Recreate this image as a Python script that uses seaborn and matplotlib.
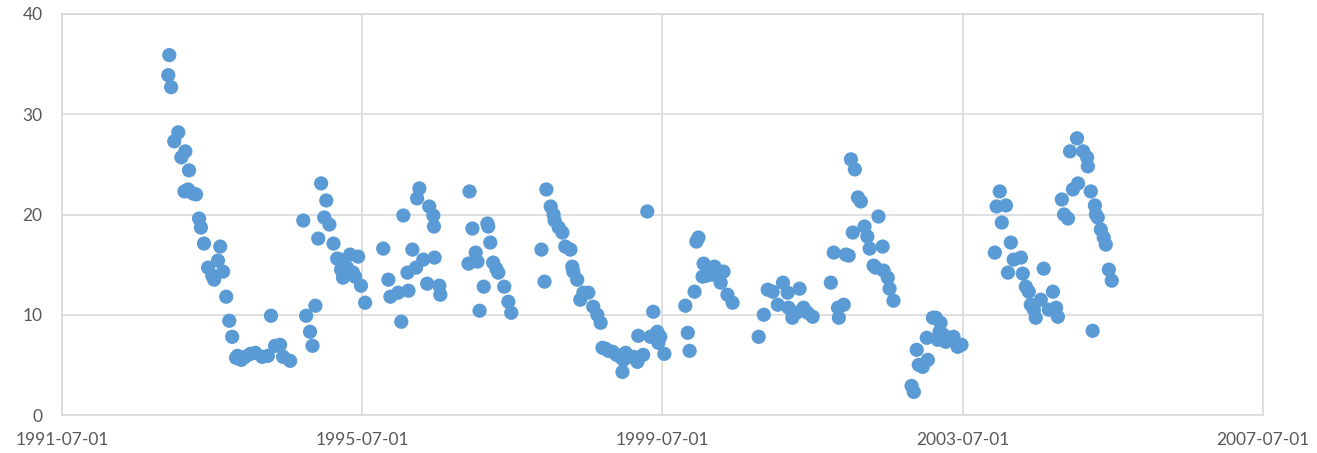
import pandas as pd
import seaborn as sns
import matplotlib.pyplot as plt
import matplotlib.dates as mdates

# ==============================
# DATA
# ==============================
dates = [
    # 1992-1994
    "1992-11-29", "1992-12-04", "1992-12-13", "1992-12-28", "1993-01-17", "1993-02-01",
    "1993-02-16", "1993-02-20", "1993-03-05", "1993-03-10", "1993-03-29", "1993-04-13",
    "1993-04-28", "1993-05-07", "1993-05-22", "1993-06-11", "1993-07-01", "1993-07-10",
    "1993-07-29", "1993-08-09", "1993-08-23", "1993-09-07", "1993-09-22", "1993-10-06",
    "1993-10-25", "1993-11-01", "1993-11-19", "1993-12-08", "1994-01-03", "1994-01-27",
    "1994-03-01", "1994-03-29", "1994-04-13", "1994-05-03", "1994-05-27", "1994-06-11",
    "1994-07-15",
    # 1994-1995
    "1994-09-17", "1994-10-01", "1994-10-20", "1994-11-01", "1994-11-15", "1994-11-29",
    "1994-12-13", "1994-12-28", "1995-01-07", "1995-01-22", "1995-02-11", "1995-03-01",
    "1995-03-15", "1995-03-20", "1995-03-29", "1995-04-18", "1995-05-03", "1995-05-17",
    "1995-05-27", "1995-06-11", "1995-06-25", "1995-07-15",
    # 1995-1996
    "1995-10-11", "1995-11-05", "1995-11-15", "1995-12-23", "1996-01-07", "1996-01-17",
    "1996-02-06", "1996-02-11", "1996-03-01", "1996-03-19", "1996-04-04", "1996-03-24",
    "1996-04-23", "1996-05-12", "1996-05-22", "1996-06-11", "1996-06-14", "1996-06-17",
    "1996-07-10", "1996-07-15",
    # 1996-1997
    "1996-11-29", "1996-12-04", "1996-12-18", "1997-01-03", "1997-01-12", "1997-01-22",
    "1997-02-11", "1997-03-01", "1997-03-05", "1997-03-15", "1997-03-29", "1997-04-13",
    "1997-04-23", "1997-05-22", "1997-06-11", "1997-06-25",
    # 1997-1998
    "1997-11-19", "1997-12-04", "1997-12-13", "1998-01-03", "1998-01-17", "1998-01-22",
    "1998-02-11", "1998-03-01", "1998-03-15", "1998-04-09", "1998-04-18", "1998-04-23",
    "1998-05-12", "1998-05-27", "1998-06-11", "1998-07-05", "1998-07-29", "1998-08-18",
    "1998-09-03", "1998-09-12",
    # 1998-2000
    "1998-09-27", "1998-10-11", "1998-11-01", "1998-11-19", "1998-12-08", "1998-12-18",
    "1998-12-23", "1999-01-03", "1999-01-17", "1999-02-11", "1999-03-01", "1999-03-05",
    "1999-03-29", "1999-04-18", "1999-05-03", "1999-05-17", "1999-05-27", "1999-06-06",
    "1999-06-11", "1999-06-20", "1999-07-10", "1999-10-20", "1999-11-01", "1999-11-10",
    "1999-12-04", "1999-12-13", "1999-12-23", "2000-01-12", "2000-01-17", "2000-02-01",
    "2000-02-16", "2000-03-01", "2000-03-10", "2000-03-24", "2000-04-09", "2000-04-23",
    "2000-05-12", "2000-06-06",
    # 2000-2002
    "2000-10-11", "2000-11-05", "2000-11-24", "2000-12-18", "2001-01-12", "2001-02-06",
    "2001-03-01", "2001-03-05", "2001-03-24", "2001-04-13", "2001-04-28", "2001-05-17",
    "2001-06-06", "2001-07-01", "2001-09-27", "2001-10-11", "2001-11-01", "2001-11-05",
    "2001-11-29", "2001-12-09", "2001-12-23", "2002-01-03", "2002-01-12", "2002-01-22",
    "2002-02-06", "2002-02-20", "2002-03-10", "2002-03-24", "2002-04-04", "2002-04-23",
    "2002-05-03", "2002-05-17", "2002-06-06", "2002-06-11", "2002-07-01", "2002-07-10",
    "2002-07-29",
    # 2002-2003
    "2002-10-25", "2002-11-05", "2002-11-19", "2002-11-29", "2002-12-18", "2003-01-07",
    "2003-01-12", "2003-02-06", "2003-02-20", "2003-03-01", "2003-03-10", "2003-03-15",
    "2003-03-29", "2003-04-09", "2003-05-03", "2003-05-17", "2003-06-06", "2003-06-25",
    # 2003-2005
    "2003-12-04", "2003-12-13", "2003-12-28", "2004-01-07", "2004-01-27", "2004-02-06",
    "2004-02-20", "2004-03-05", "2004-04-09", "2004-04-18", "2004-05-03", "2004-05-17",
    "2004-05-27", "2004-06-11", "2004-06-20", "2004-07-15", "2004-07-29", "2004-08-23",
    "2004-09-12", "2004-09-27", "2004-10-06", "2004-10-25", "2004-11-05", "2004-11-24",
    "2004-12-04", "2004-12-18", "2005-01-07", "2005-01-12", "2005-02-06", "2005-02-25",
    "2005-03-01", "2005-03-15", "2005-03-24", "2005-04-04", "2005-04-09", "2005-04-18",
    "2005-05-03", "2005-05-17", "2005-05-27", "2005-06-11", "2005-06-25",
]

values = [
    # 1992-1994
    33.9, 35.9, 32.7, 27.3, 28.2, 25.7,
    22.3, 26.3, 22.5, 24.4, 22.1, 22.0,
    19.6, 18.7, 17.1, 14.7, 13.9, 13.5,
    15.4, 16.8, 14.3, 11.8, 9.4, 7.8,
    5.7, 5.9, 5.5, 5.8, 6.1, 6.2,
    5.8, 5.9, 9.9, 6.9, 7.0, 5.8,
    5.4,
    # 1994-1995
    19.4, 9.9, 8.3, 6.9, 10.9, 17.6,
    23.1, 19.7, 21.4, 19.0, 17.1, 15.6,
    15.5, 14.5, 13.7, 14.7, 16.0, 14.2,
    13.8, 15.8, 12.9, 11.2,
    # 1995-1996
    16.6, 13.5, 11.8, 12.2, 9.3, 19.9,
    14.2, 12.4, 16.5, 14.7, 22.6, 21.6,
    15.5, 13.1, 20.8, 19.9, 18.8, 15.7,
    12.9, 12.0,
    # 1996-1997
    15.1, 22.3, 18.6, 16.2, 15.3, 10.4,
    12.8, 19.1, 18.8, 17.2, 15.2, 14.6,
    14.2, 12.8, 11.3, 10.2,
    # 1997-1998
    16.5, 13.3, 22.5, 20.8, 20.0, 19.4,
    18.7, 18.2, 16.8, 16.5, 14.8, 14.3,
    13.5, 11.5, 12.2, 12.2, 10.8, 10.0,
    9.2, 6.7,
    # 1998-2000
    6.6, 6.4, 6.3, 6.0, 5.8, 4.3,
    5.5, 6.2, 5.8, 5.8, 5.3, 7.9,
    6.0, 20.3, 7.8, 10.3, 8.0, 8.3,
    7.2, 7.8, 6.1, 10.9, 8.2, 6.4,
    12.3, 17.3, 17.7, 13.8, 15.1, 13.9,
    14.4, 14.0, 14.8, 14.2, 13.2, 14.3,
    12.0, 11.2,
    # 2000-2002
    7.8, 10.0, 12.5, 12.3, 11.0, 13.2,
    12.2, 10.7, 9.7, 10.2, 12.6, 10.7,
    10.2, 9.8, 13.2, 16.2, 10.7, 9.7,
    11.0, 16.0, 15.9, 25.5, 18.2, 24.5,
    21.7, 21.3, 18.8, 17.8, 16.6, 14.9,
    14.7, 19.8, 16.8, 14.4, 13.7, 12.6,
    11.4,
    # 2002-2003
    2.9, 2.3, 6.5, 5.0, 4.8, 7.7,
    5.5, 9.7, 9.7, 7.5, 8.3, 9.2,
    8.0, 7.3, 7.5, 7.8, 6.8, 7.0,
    # 2003-2005
    16.2, 20.8, 22.3, 19.2, 20.9, 14.2,
    17.2, 15.5, 15.7, 14.1, 12.8, 12.3,
    11.0, 10.5, 9.7, 11.5, 14.6, 10.5,
    12.3, 10.7, 9.8, 21.5, 20.0, 19.6,
    26.3, 22.5, 27.6, 23.1, 26.3, 25.7,
    24.8, 22.3, 8.4, 20.9, 20.0, 19.7,
    18.5, 17.7, 17.0, 14.5, 13.4,
]

x_ticks = ["1991-07-01", "1995-07-01", "1999-07-01", "2003-07-01", "2007-07-01"]
y_ticks = [0, 10, 20, 30, 40]

df = pd.DataFrame({"date": pd.to_datetime(dates), "value": values})

# ==============================
# PLOT
# ==============================
sns.set_style("white")
plt.rcParams["font.family"] = ["Lato", "DejaVu Sans"]

fig = plt.figure(figsize=(13.17, 4.53), dpi=100)
ax = fig.add_axes([62 / 1317, 1 - 415 / 453, 1201 / 1317, 401 / 453])

sns.scatterplot(data=df, x="date", y="value", ax=ax, color="#5B9BD5",
                s=105, edgecolor="none", linewidth=0, legend=False, zorder=3)

tick_dates = pd.to_datetime(x_ticks)
ax.set_xlim(tick_dates[0], tick_dates[-1])
ax.set_ylim(0, 40)
ax.set_xticks(tick_dates)
ax.set_xticklabels(x_ticks)
ax.set_yticks(y_ticks)
ax.xaxis.set_major_formatter(mdates.DateFormatter("%Y-%m-%d"))

grid_col = "#d9d9d9"
ax.grid(True, color=grid_col, linewidth=1.2, zorder=0)
for side in ["left", "right", "top", "bottom"]:
    ax.spines[side].set_visible(True)
    ax.spines[side].set_color(grid_col)
    ax.spines[side].set_linewidth(1.2)

ax.tick_params(axis="both", length=0, labelsize=12.5, colors="#595959")
ax.tick_params(axis="x", pad=12)
ax.tick_params(axis="y", pad=14)
ax.set_xlabel("")
ax.set_ylabel("")

fig.savefig("out.png", dpi=100)
